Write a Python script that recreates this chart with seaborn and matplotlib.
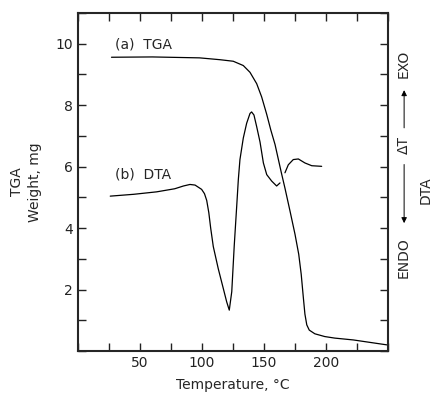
import numpy as np
import pandas as pd
import matplotlib
matplotlib.use("Agg")
import matplotlib.pyplot as plt
from matplotlib.ticker import MultipleLocator
import seaborn as sns

# TGA curve (temperature in C, weight in mg)
tga_temp = [27, 60, 98, 114.5, 125.2, 133.3, 138.7, 144.1, 148.1, 152.2, 155.5,
            158.9, 161.5, 164, 166.9, 171, 175, 178, 180, 181.7, 183, 184.5,
            186.5, 191, 199, 207, 222, 249]
tga_weight = [9.56, 9.57, 9.54, 9.48, 9.43, 9.29, 9.07, 8.7, 8.27, 7.7, 7.19,
              6.72, 6.25, 5.8, 5.3, 4.55, 3.8, 3.15, 2.5, 1.75, 1.2, 0.85,
              0.68, 0.56, 0.47, 0.42, 0.36, 0.2]

# DTA curve, drawn on the same scale; it has a break near 164 C
dta_temp_1 = [26, 45, 63.5, 78, 85, 90.3, 94.4, 99.7, 102, 103.8, 105.5, 107, 109.1,
              113.1, 117.2, 119.9, 122, 124, 126, 128, 129.3, 130.6, 133.3, 136,
              138.7, 140, 141.9, 144.1, 146.8, 149.5, 152.2, 156.2, 160.2, 162.9]
dta_value_1 = [5.04, 5.1, 5.18, 5.28, 5.37, 5.42, 5.40, 5.26, 5.12, 4.9, 4.5, 4.0, 3.4,
               2.68, 2.03, 1.6, 1.33, 1.93, 3.43, 4.72, 5.58, 6.23, 6.93, 7.41,
               7.73, 7.78, 7.68, 7.3, 6.8, 6.12, 5.74, 5.53, 5.37, 5.47]
dta_temp_2 = [166.9, 169.6, 173.6, 177.7, 183, 188.5, 196.5]
dta_value_2 = [5.8, 6.06, 6.23, 6.25, 6.12, 6.03, 6.01]

tga = pd.DataFrame({"temp": tga_temp, "w": tga_weight})
dta1 = pd.DataFrame({"temp": dta_temp_1, "w": dta_value_1})
dta2 = pd.DataFrame({"temp": dta_temp_2, "w": dta_value_2})

sns.set_style("ticks")
plt.rcParams['font.family'] = ['DejaVu Sans']
plt.rcParams['font.size'] = 10

fig = plt.figure(figsize=(4.39, 3.95), dpi=100)
ax = fig.add_axes([78/439, 1 - 351/395, 310/439, 338/395])

for d in (tga, dta1, dta2):
    sns.lineplot(data=d, x="temp", y="w", ax=ax, color="black", lw=0.9,
                 sort=False, estimator=None)

ax.set_xlim(0, 250)
ax.set_ylim(0, 11)
ax.xaxis.set_minor_locator(MultipleLocator(25))
ax.yaxis.set_minor_locator(MultipleLocator(1))
ax.set_xticks([50, 100, 150, 200])
ax.set_yticks([2, 4, 6, 8, 10])
ax.tick_params(which="both", direction="in", top=True, right=True,
               length=6, width=1, labelsize=10, colors="#222222")
for s in ax.spines.values():
    s.set_linewidth(1.5)

ax.set_xlabel("Temperature, °C", fontsize=10, labelpad=6)
ax.set_ylabel("TGA\nWeight, mg", fontsize=10, labelpad=10, linespacing=1.3)

ax.text(30, 9.97, "(a)  TGA", fontsize=10, va="center")
ax.text(30, 5.74, "(b)  DTA", fontsize=10, va="center")

# right-hand DTA annotation
kw = dict(transform=ax.transAxes, rotation=90, ha="center", va="center",
          fontsize=10, clip_on=False)
ax.text(1.052, 0.849, "EXO", **kw)
ax.text(1.052, 0.609, "ΔT", **kw)
ax.text(1.052, 0.275, "ENDO", **kw)
ax.text(1.12, 0.476, "DTA", **kw)
arr = dict(arrowstyle="-|>", color="black", lw=0.7, mutation_scale=8)
ax.annotate("", xy=(1.052, 0.78), xytext=(1.052, 0.652),
            xycoords="axes fraction", arrowprops=arr)
ax.annotate("", xy=(1.052, 0.37), xytext=(1.052, 0.56),
            xycoords="axes fraction", arrowprops=arr)

fig.savefig("out.png", dpi=100)
